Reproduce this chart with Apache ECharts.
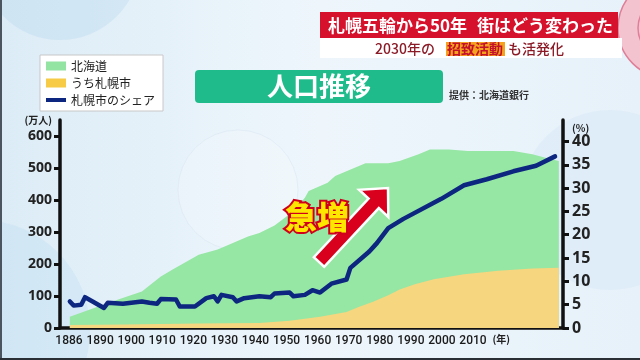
<!DOCTYPE html>
<html><head><meta charset="utf-8">
<script src="https://cdn.jsdelivr.net/npm/echarts@6/dist/echarts.min.js"></script>
<style>html,body{margin:0;padding:0;}#c{width:640px;height:360px;}</style>
</head><body><div id="c"></div>
<script>
// ---- data ----
const xTickLabels = ['1886','1890','1900','1910','1920','1930','1940','1950','1960','1970','1980','1990','2000','2010'];
const hokkaidoYears = [1886,1897,1905,1910,1913,1920,1925,1929,1933,1936,1940,1945,1948,1949,1954,1956,1961,1964,1970,1973,1978,1981,1986,1991,2003,2008,2013,2015];
const hokkaidoPop   = [35,82,114,161,182,229,245,266,286,297,320,365,407,428,454,475,500,515,515,522,543,558,558,553,553,543,527,522];
const sapporoYears  = [1886,1900,1920,1936,1944,1952,1959,1962,1966,1970,1973,1977,1982,1990,1999,2008,2015];
const sapporoPop    = [9,11,14,16,23,35,50,65,82,102,120,137,152,168,179,186,188];
const shareYears = [1886,1887,1889,1890,1892,1895,1896,1900,1905,1907,1909,1910,1914,1915,1919,1922,1924,1925,1926,1929,1930,1932,1936,1939,1940,1944,1945,1948,1950,1952,1955,1959,1960,1965,1967,1970,1974,1984,1990,1996,2003,2009,2014];
const shareVals  = [5.7,4.8,5.0,6.6,5.7,4.3,5.4,5.2,5.7,5.4,5.2,6.2,6.1,4.6,4.6,6.4,6.8,5.7,7.1,6.6,5.7,6.4,6.8,6.6,7.4,7.6,6.8,7.1,8.1,7.6,9.5,10.4,12.9,16.4,18.2,21.4,23.4,27.7,30.6,31.9,33.6,34.8,36.8];
const seriesNames = ['北海道','うち札幌市','札幌市のシェア'];

const zip = (a,b) => a.map((v,i)=>[v,b[i]]);
const JP = '"Noto Sans CJK JP","Noto Sans",sans-serif';
const NUM = '"Noto Sans","Liberation Sans",sans-serif';

// decorative arrow polygon
function arrowPts(tail, tip, sw, hw, h){
  const dx=tip[0]-tail[0], dy=tip[1]-tail[1], L=Math.hypot(dx,dy);
  const ux=dx/L, uy=dy/L, nx=-uy, ny=ux;
  const nk=[tip[0]-ux*h, tip[1]-uy*h];
  return [[tail[0]+nx*sw,tail[1]+ny*sw],[nk[0]+nx*sw,nk[1]+ny*sw],[nk[0]+nx*hw,nk[1]+ny*hw],tip,
          [nk[0]-nx*hw,nk[1]-ny*hw],[nk[0]-nx*sw,nk[1]-ny*sw],[tail[0]-nx*sw,tail[1]-ny*sw]];
}

const chart = echarts.init(document.getElementById('c'));
const option = {
  animation:false,
  backgroundColor:{type:'linear',x:0,y:0,x2:1,y2:0,colorStops:[{offset:0,color:'#dcecf6'},{offset:0.5,color:'#eef6fc'},{offset:1,color:'#e6f1f9'}]},
  title:[
    {text:'人口推移', left:195, top:70, padding:[1,72,2,72], backgroundColor:'#1fbb8b', borderRadius:4,
     textStyle:{color:'#fff',fontSize:26,fontWeight:'bold',fontFamily:JP,lineHeight:30}},
    {text:'提供：北海道銀行', left:449, top:90, padding:0,
     textStyle:{color:'#333',fontSize:10,fontWeight:'bold',fontFamily:JP}}
  ],
  legend:{
    orient:'vertical', left:40, top:55, backgroundColor:'#fff', borderColor:'#c8c8c8', borderWidth:1,
    padding:[5,8,5,6], itemWidth:20, itemHeight:9, itemGap:5, symbolKeepAspect:true,
    textStyle:{color:'#222',fontSize:12,fontFamily:JP},
    data:[
      {name:seriesNames[0], icon:'rect', itemStyle:{color:'#93e3a2'}},
      {name:seriesNames[1], icon:'rect', itemStyle:{color:'#f7cb45'}},
      {name:seriesNames[2], icon:'path://M0,0 L20,0 L20,4 L0,4 Z', itemStyle:{color:'#0d2680'}}
    ]
  },
  grid:[
    {left:60, right:77, top:120, bottom:32},
    {left:69, width:404, top:120, bottom:32}
  ],
  xAxis:[
    {type:'value', gridIndex:0, min:1883.4, max:2016.1,
     axisLine:{show:true,lineStyle:{color:'#111',width:3.5}}, axisTick:{show:false}, axisLabel:{show:false}, splitLine:{show:false}},
    {type:'category', gridIndex:1, boundaryGap:false, data:xTickLabels,
     axisLine:{show:false}, axisTick:{show:false}, splitLine:{show:false},
     axisLabel:{color:'#1a1a1a',fontSize:12,fontWeight:500,fontFamily:'Roboto,sans-serif',margin:7,interval:0},
     name:'(年)', nameLocation:'end', nameGap:15,
     nameTextStyle:{color:'#222',fontSize:10,fontWeight:'bold',fontFamily:JP,align:'left',verticalAlign:'top',padding:[6,0,0,0]}}
  ],
  yAxis:[
    {type:'value', gridIndex:0, position:'left', min:0, max:650, interval:100,
     axisLine:{show:true,lineStyle:{color:'#111',width:3.5}},
     axisTick:{show:true,length:6,lineStyle:{color:'#111',width:3}},
     axisLabel:{color:'#222',fontSize:14,fontWeight:'bold',fontFamily:NUM,margin:8,showMaxLabel:false},
     splitLine:{show:false},
     name:'(万人)', nameLocation:'end', nameGap:0,
     nameTextStyle:{color:'#222',fontSize:10,fontWeight:'bold',fontFamily:JP,align:'right',verticalAlign:'middle',padding:[0,8,0,0]}},
    {type:'value', gridIndex:0, position:'right', min:0, max:44.6, interval:5,
     axisLine:{show:true,lineStyle:{color:'#111',width:3.5}},
     axisTick:{show:true,length:6,lineStyle:{color:'#111',width:3}},
     axisLabel:{color:'#222',fontSize:16,fontWeight:'bold',fontFamily:NUM,margin:9,showMaxLabel:false},
     splitLine:{show:false},
     name:'(%)', nameLocation:'end', nameGap:-9,
     nameTextStyle:{color:'#222',fontSize:10,fontWeight:'bold',fontFamily:JP,align:'left',verticalAlign:'middle',padding:[0,0,0,9]}},
    {type:'value', gridIndex:1, show:false, min:0, max:1}
  ],
  series:[
    {name:seriesNames[0], type:'line', xAxisIndex:0, yAxisIndex:0, data:zip(hokkaidoYears,hokkaidoPop),
     symbol:'none', color:'#93e6a3', lineStyle:{width:0}, areaStyle:{color:'#96e6a4',opacity:1}, z:2},
    {name:seriesNames[1], type:'line', xAxisIndex:0, yAxisIndex:0, data:zip(sapporoYears,sapporoPop),
     symbol:'none', color:'#f6d57e', lineStyle:{width:0}, areaStyle:{color:'#f6d67f',opacity:1}, z:3},
    {name:seriesNames[2], type:'line', xAxisIndex:0, yAxisIndex:1, data:zip(shareYears,shareVals),
     symbol:'none', color:'#0d2680', lineStyle:{width:4.5,color:'#0d2680',cap:'round',join:'round'}, z:5}
  ],
  graphic:[
    // background bubbles
    {type:'circle', z:-10, silent:true, shape:{cx:60,cy:-40,r:80}, style:{fill:'rgba(190,220,240,0.45)'}},
    {type:'circle', z:-10, silent:true, shape:{cx:-20,cy:330,r:110}, style:{fill:'rgba(190,220,240,0.35)'}},
    {type:'circle', z:-10, silent:true, shape:{cx:238,cy:190,r:60}, style:{fill:'rgba(255,255,255,0.2)',stroke:'rgba(215,228,240,0.5)',lineWidth:1}},
    {type:'circle', z:-10, silent:true, shape:{cx:610,cy:200,r:90}, style:{fill:'rgba(210,230,245,0.35)'}},
    // frame edges
    {type:'rect', z:50, silent:true, shape:{x:0,y:0,width:2,height:360}, style:{fill:'#4a5560'}},
    {type:'rect', z:50, silent:true, shape:{x:0,y:358,width:640,height:2}, style:{fill:'#2a2f35'}},
    // header
    {type:'circle', z:40, silent:true, shape:{cx:668,cy:28,r:50}, style:{fill:'#f3c3cf',stroke:'#e07e98',lineWidth:1.5}},
    {type:'circle', z:40, silent:true, shape:{cx:668,cy:28,r:30}, style:{fill:'none',stroke:'#e07e98',lineWidth:1.5}},
    {type:'rect', z:41, silent:true, shape:{x:320,y:12,width:298,height:26}, style:{fill:'#d6112c'}},
    {type:'rect', z:41, silent:true, shape:{x:320,y:38,width:302,height:20}, style:{fill:'#ffffff'}},
    {type:'text', z:42, silent:true, style:{x:328,y:25.5,text:'札幌五輪から50年',fill:'#fff',font:'bold 17px '+JP,textVerticalAlign:'middle'}},
    {type:'text', z:42, silent:true, style:{x:477,y:25.5,text:'街はどう変わった',fill:'#fff',font:'bold 17px '+JP,textVerticalAlign:'middle'}},
    {type:'text', z:42, silent:true, style:{x:375,y:49,text:'2030年の',fill:'#8a1a26',font:'500 14px '+JP,textVerticalAlign:'middle'}},
    {type:'rect', z:42, silent:true, shape:{x:446,y:42,width:59,height:14}, style:{fill:'#f5a21e'}},
    {type:'text', z:43, silent:true, style:{x:447,y:49,text:'招致活動',fill:'#c3102b',font:'bold 14px '+JP,textVerticalAlign:'middle'}},
    {type:'text', z:42, silent:true, style:{x:508,y:49,text:'も活発化',fill:'#8a1a26',font:'500 14px '+JP,textVerticalAlign:'middle'}},
    // arrow + annotation
    {type:'polygon', z:20, silent:true, shape:{points:arrowPts([319,262],[388,188],7,20,21)}, style:{fill:'#d8001c',stroke:'#ffffff',lineWidth:2.5}},
    {type:'text', z:21, silent:true, style:{x:317,y:217,text:'急増',fill:'#ffe600',stroke:'#d0001c',lineWidth:4,font:'900 32px '+JP,textAlign:'center',textVerticalAlign:'middle'}}
  ]
};
chart.setOption(option);
</script>
</body></html>
